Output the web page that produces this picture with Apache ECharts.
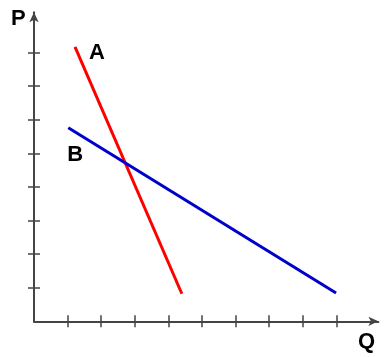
<!DOCTYPE html>
<html>
<head>
<meta charset="utf-8">
<script src="https://cdn.jsdelivr.net/npm/echarts@6/dist/echarts.min.js"></script>
<style>
html,body{margin:0;padding:0;background:#fff;}
#chart{width:392px;height:357px;}
</style>
</head>
<body>
<div id="chart"></div>
<script>
// Data
const xTicks = [1, 2, 3, 4, 5, 6, 7, 8, 9];
const yTicks = [1, 2, 3, 4, 5, 6, 7, 8];
const lineA = [[1.22, 8.17], [4.4, 0.82]];
const lineB = [[1.02, 5.76], [8.99, 0.84]];
const labelA = 'A';
const labelB = 'B';
const axisNameX = 'Q';
const axisNameY = 'P';

const chart = echarts.init(document.getElementById('chart'), null, {renderer: 'canvas'});
const axisColor = '#444';
const font = '"Liberation Sans", Arial, sans-serif';

function mkX(inside, showLine) {
  return {
    type: 'value', position: 'bottom', offset: 0, min: 0, max: 10.25, interval: 1,
    axisLine: {show: showLine, onZero: false, symbol: ['none', 'arrow'], symbolSize: [7, 10],
      lineStyle: {color: axisColor, width: 2}},
    axisTick: {show: true, inside: inside, length: 6, customValues: xTicks,
      lineStyle: {color: axisColor, width: 1.5}},
    axisLabel: {show: false},
    splitLine: {show: false}
  };
}
function mkY(inside, showLine) {
  return {
    type: 'value', position: 'left', offset: 0, min: 0, max: 9.2, interval: 1,
    axisLine: {show: showLine, onZero: false, symbol: ['none', 'arrow'], symbolSize: [7, 10],
      lineStyle: {color: axisColor, width: 2}},
    axisTick: {show: true, inside: inside, length: 6, customValues: yTicks,
      lineStyle: {color: axisColor, width: 1.5}},
    axisLabel: {show: false},
    splitLine: {show: false}
  };
}

const lbl = (text, offset) => ({
  show: true, formatter: text, position: 'inside', offset: offset,
  fontFamily: font, fontWeight: 'bold', fontSize: 22, color: '#000'
});

chart.setOption({
  animation: false,
  grid: {left: 34, top: 12.2, width: 344.4, height: 309.1, containLabel: false},
  xAxis: [mkX(false, true), mkX(true, false)],
  yAxis: [mkY(false, true), mkY(true, false)],
  series: [
    {
      type: 'line', xAxisIndex: 0, yAxisIndex: 0,
      symbol: 'circle', symbolSize: 0.01, showSymbol: true,
      lineStyle: {color: '#ff0000', width: 3}, itemStyle: {color: '#ff0000'},
      data: [{value: lineA[0], label: lbl(labelA, [22, 6])}, {value: lineA[1]}]
    },
    {
      type: 'line', xAxisIndex: 0, yAxisIndex: 0,
      symbol: 'circle', symbolSize: 0.01, showSymbol: true,
      lineStyle: {color: '#0000cc', width: 3}, itemStyle: {color: '#0000cc'},
      data: [{value: lineB[0], label: lbl(labelB, [7, 27])}, {value: lineB[1]}]
    }
  ],
  graphic: [
    {type: 'text', left: 11, top: 8, style: {text: axisNameY, font: 'bold 22px ' + font, fill: '#000'}},
    {type: 'text', left: 358, top: 331, style: {text: axisNameX, font: 'bold 22px ' + font, fill: '#000'}}
  ]
});
</script>
</body>
</html>
